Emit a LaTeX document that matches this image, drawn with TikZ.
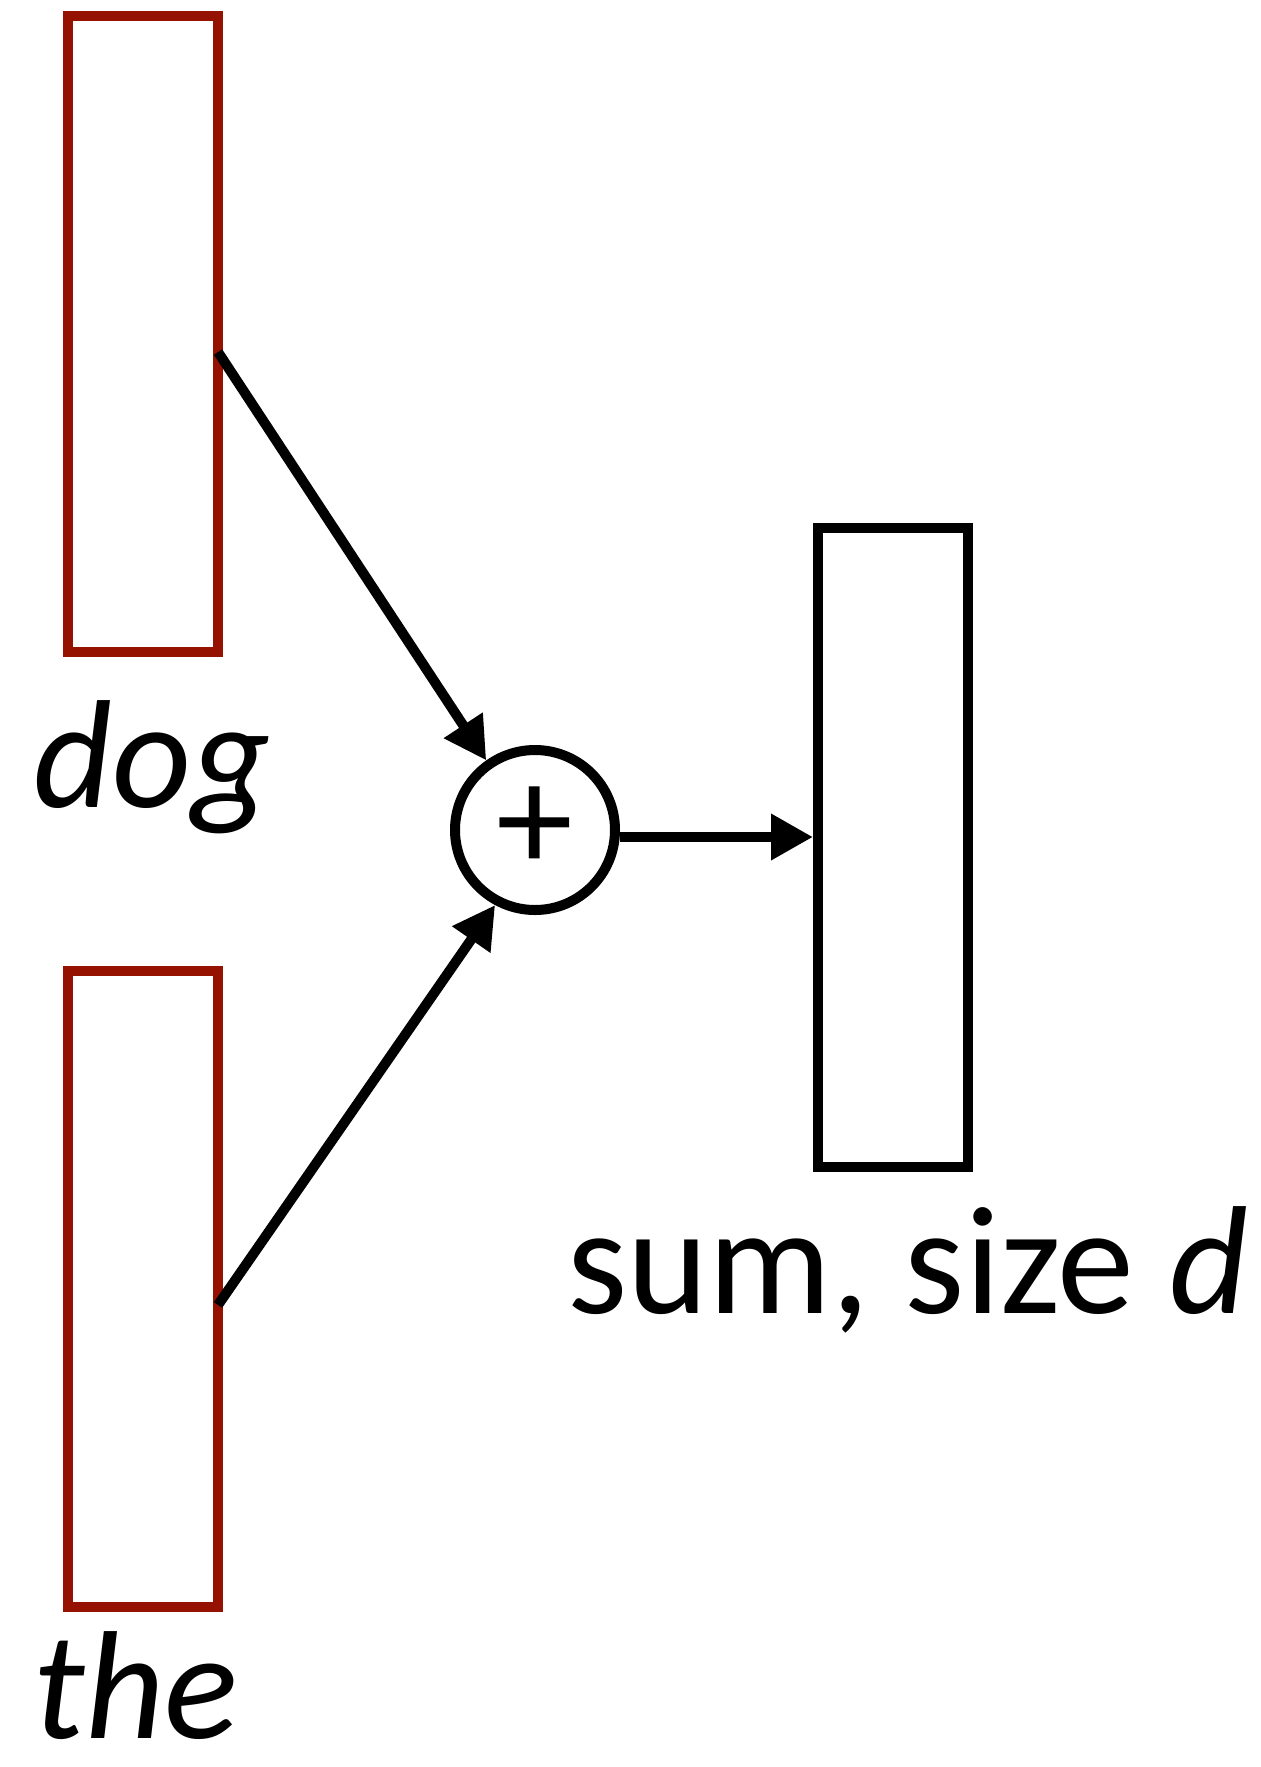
\documentclass[tikz,border=0pt]{standalone}
\usepackage{fontspec}
\setmainfont{Carlito}
\usepackage{xcolor}
\usetikzlibrary{arrows.meta,calc}
\definecolor{vecred}{HTML}{961200}
\newcommand{\bigfont}{\fontsize{77pt}{92pt}\selectfont}
\tikzset{vec/.style={draw,line width=5pt,inner sep=0pt,minimum width=75pt},
    wordvec/.style={vec,draw=vecred,minimum height=318pt},
    sumop/.style={draw,circle,line width=5pt,inner sep=0pt,minimum size=80pt},
    word/.style={anchor=base,inner sep=0pt,font=\bigfont\itshape},
    arr/.style={line width=5pt,-{Triangle[length=21pt,width=22pt]}}}

\begin{document}
\begin{tikzpicture}[x=0.5pt,y=-0.5pt,font=\bigfont]
\useasboundingbox (0,0) rectangle (1261,1767);
% word vectors
\node[wordvec] (dogvec) at (143,334) {};
\node[wordvec] (thevec) at (143,1289) {};
\node[word] (dog) at (152,807) {dog};
\node[word] (the) at (136,1738) {the};
% sum
\node[sumop] (sum) at (535,830) {};
\node[inner sep=0pt] (plus) at (535,829) {+};
\node[vec,minimum height=319.5pt] (sumvec) at (893,847.5) {};
\node[anchor=base,inner sep=0pt] (sumlabel) at (908,1313) {sum, size \textit{d}};
% arrows
\coordinate (dogout) at (218,352);
\coordinate (theout) at (218,1305);
\draw[arr] (dogout) -- (sum.125);
\draw[arr] (theout) -- (sum.-118);
\draw[arr] ([yshift=-3.5pt]sum.east) -- ([yshift=-3.5pt]sum.east -| sumvec.west);
\end{tikzpicture}
\end{document}
